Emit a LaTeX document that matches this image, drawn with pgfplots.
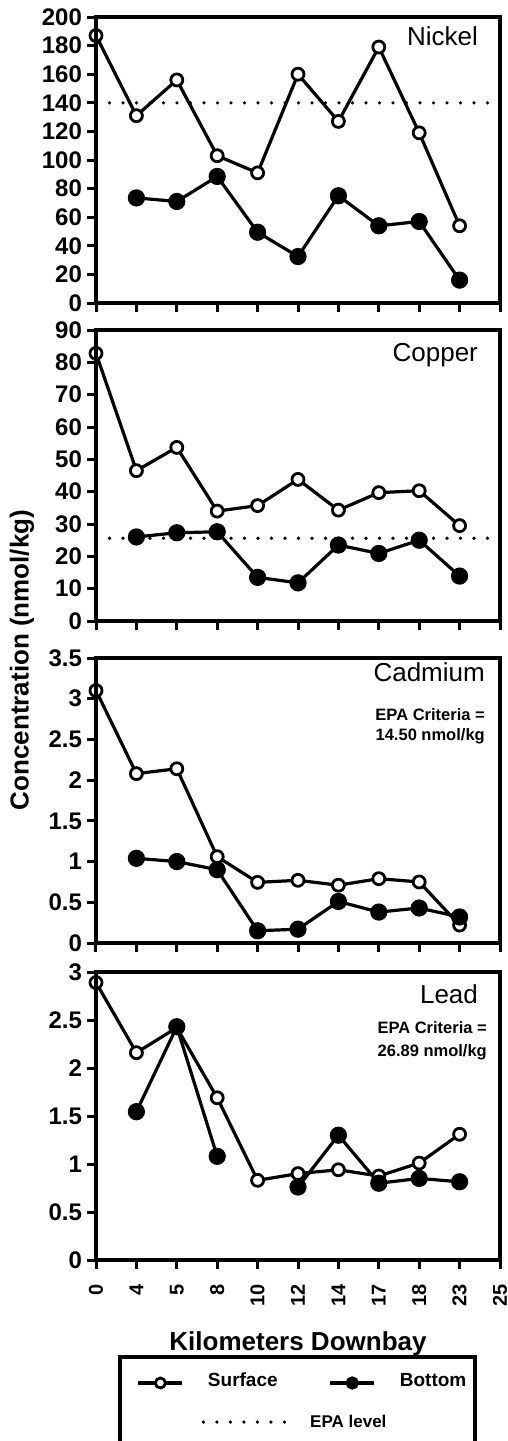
\documentclass[border=0pt]{standalone}
\usepackage{fontspec}
\setmainfont{Liberation Sans}
\usepackage{pgfplots}
\pgfplotsset{compat=1.18}
\pgfplotsset{
 every axis/.append style={line width=3.6pt},
 panel/.style={
  scale only axis, width=404pt, xmin=0, xmax=10, clip=false,
  xtick={0,1,2,3,4,5,6,7,8,9,10}, xticklabels={},
  tick align=outside, xtick pos=bottom, ytick pos=left,
  major tick length=9pt,
  tick style={line width=3pt, black},
  tick label style={font=\bfseries\fontsize{24}{24}\selectfont},
  /pgf/number format/assume math mode=true,
  anchor=south west, unbounded coords=jump,
  after end axis/.code={\draw[line width=3.6pt] (rel axis cs:0,0) rectangle (rel axis cs:1,1);},
 },
}
\tikzset{
 surfc/.style={black, line width=3.2pt, mark=*, mark size=6pt, mark options={fill=white, line width=2.8pt}},
 bott/.style={black, line width=3.2pt, mark=*, mark size=7pt, mark options={fill=black}},
 epa/.style={black, line width=3.6pt, dash pattern=on 0pt off 13.5pt, line cap=round},
 pname/.style={anchor=base east, font=\fontsize{26}{26}\selectfont},
 crit/.style={anchor=base east, font=\bfseries\fontsize{16.5}{16.5}\selectfont},
}
\begin{document}
\begin{tikzpicture}
\useasboundingbox (0,0) rectangle (508pt,-1441pt);
% Nickel
\begin{axis}[panel, at={(96pt,-303pt)}, height=286pt, ymin=0, ymax=200, ytick={0,20,...,200}]
\addplot[epa] coordinates {(0,140) (10,140)};
\addplot[surfc] coordinates {(0,187) (1,131) (2,156) (3,103) (4,91) (5,160) (6,127) (7,179) (8,119) (9,54)};
\addplot[bott] coordinates {(1,73.5) (2,71) (3,88.5) (4,49.5) (5,32.5) (6,75) (7,54) (8,57) (9,16)};
\node[pname] at (rel axis cs:0.958,0.902) {Nickel};
\end{axis}
% Copper
\begin{axis}[panel, at={(96pt,-621pt)}, height=291pt, ymin=0, ymax=90, ytick={0,10,...,90},
  legend image code/.code={\draw[#1] (0pt,0pt) -- (83pt,0pt);},
  legend style={draw=none, fill=none, inner sep=0pt, anchor=west,
    at={(axis description cs:0.257,-2.753)},
    font=\bfseries\fontsize{17}{17}\selectfont, nodes={inner sep=0pt},
    /tikz/every odd column/.append style={column sep=22pt}}]
\addplot[epa] coordinates {(0,25.6) (10,25.6)};
\addlegendentry{EPA level}
\addplot[surfc, forget plot] coordinates {(0,82.8) (1,46.5) (2,53.7) (3,34) (4,35.7) (5,43.8) (6,34.3) (7,39.7) (8,40.3) (9,29.5)};
\addplot[bott, forget plot] coordinates {(1,26) (2,27.3) (3,27.6) (4,13.5) (5,11.8) (6,23.5) (7,20.9) (8,25) (9,13.9)};
\node[pname] at (rel axis cs:0.958,0.893) {Copper};
\end{axis}
% Cadmium
\begin{axis}[panel, at={(96pt,-943pt)}, height=285pt, ymin=0, ymax=3.5, ytick={0,0.5,...,3.5},
  ylabel={Concentration (nmol/kg)},
  ylabel style={at={(axis description cs:-0.183,0.993)}, anchor=center, inner sep=0pt,
    font=\bfseries\fontsize{26}{26}\selectfont}]
\addplot[surfc] coordinates {(0,3.1) (1,2.08) (2,2.14) (3,1.06) (4,0.745) (5,0.77) (6,0.71) (7,0.79) (8,0.75) (9,0.22)};
\addplot[bott] coordinates {(1,1.04) (2,1.0) (3,0.9) (4,0.15) (5,0.17) (6,0.51) (7,0.38) (8,0.43) (9,0.32)};
\node[pname] at (rel axis cs:0.975,0.916) {Cadmium};
\node[crit] at (rel axis cs:0.975,0.782) {EPA Criteria =};
\node[crit] at (rel axis cs:0.975,0.712) {14.50 nmol/kg};
\end{axis}
% Lead
\begin{axis}[panel, at={(96pt,-1260pt)}, height=288pt, ymin=0, ymax=3, ytick={0,0.5,...,3},
  xticklabels={0,4,5,8,10,12,14,17,18,23,25},
  xticklabel style={yshift=-10pt, rotate=90, anchor=east, font=\bfseries\fontsize{20}{20}\selectfont},
  xlabel={Kilometers Downbay},
  xlabel style={at={(axis description cs:0.5,-0.243)}, anchor=north, inner sep=0pt,
    font=\bfseries\fontsize{26}{26}\selectfont},
  legend columns=2,
  legend image code/.code={\draw[mark repeat=2, mark phase=2, #1, mark size=5pt] plot coordinates {(0pt,0pt) (22pt,0pt) (44pt,0pt)};},
  legend style={draw=none, fill=none, inner sep=0pt, anchor=west,
    at={(axis description cs:0.0965,-0.427)},
    font=\bfseries\fontsize{19}{19}\selectfont,
    nodes={inner sep=0pt, text height=0.72em, text depth=0.02em},
    /tikz/every odd column/.append style={column sep=24pt},
    /tikz/every even column/.append style={column sep=51pt}}]
\addplot[surfc] coordinates {(0,2.89) (1,2.16) (2,2.42) (3,1.69) (4,0.83) (5,0.9) (6,0.94) (7,0.875) (8,1.01) (9,1.31)};
\addlegendentry{Surface}
\addplot[bott] coordinates {(1,1.545) (2,2.43) (3,1.08) (4,nan) (5,0.76) (6,1.3) (7,0.8) (8,0.85) (9,0.815)};
\addlegendentry{Bottom}
\node[pname] at (rel axis cs:0.958,0.892) {Lead};
\node[crit] at (rel axis cs:0.98,0.788) {EPA Criteria =};
\node[crit] at (rel axis cs:0.98,0.705) {26.89 nmol/kg};
\end{axis}
\draw[line width=3.2pt] (120pt,-1357pt) rectangle (475pt,-1455pt);
\end{tikzpicture}
\end{document}
